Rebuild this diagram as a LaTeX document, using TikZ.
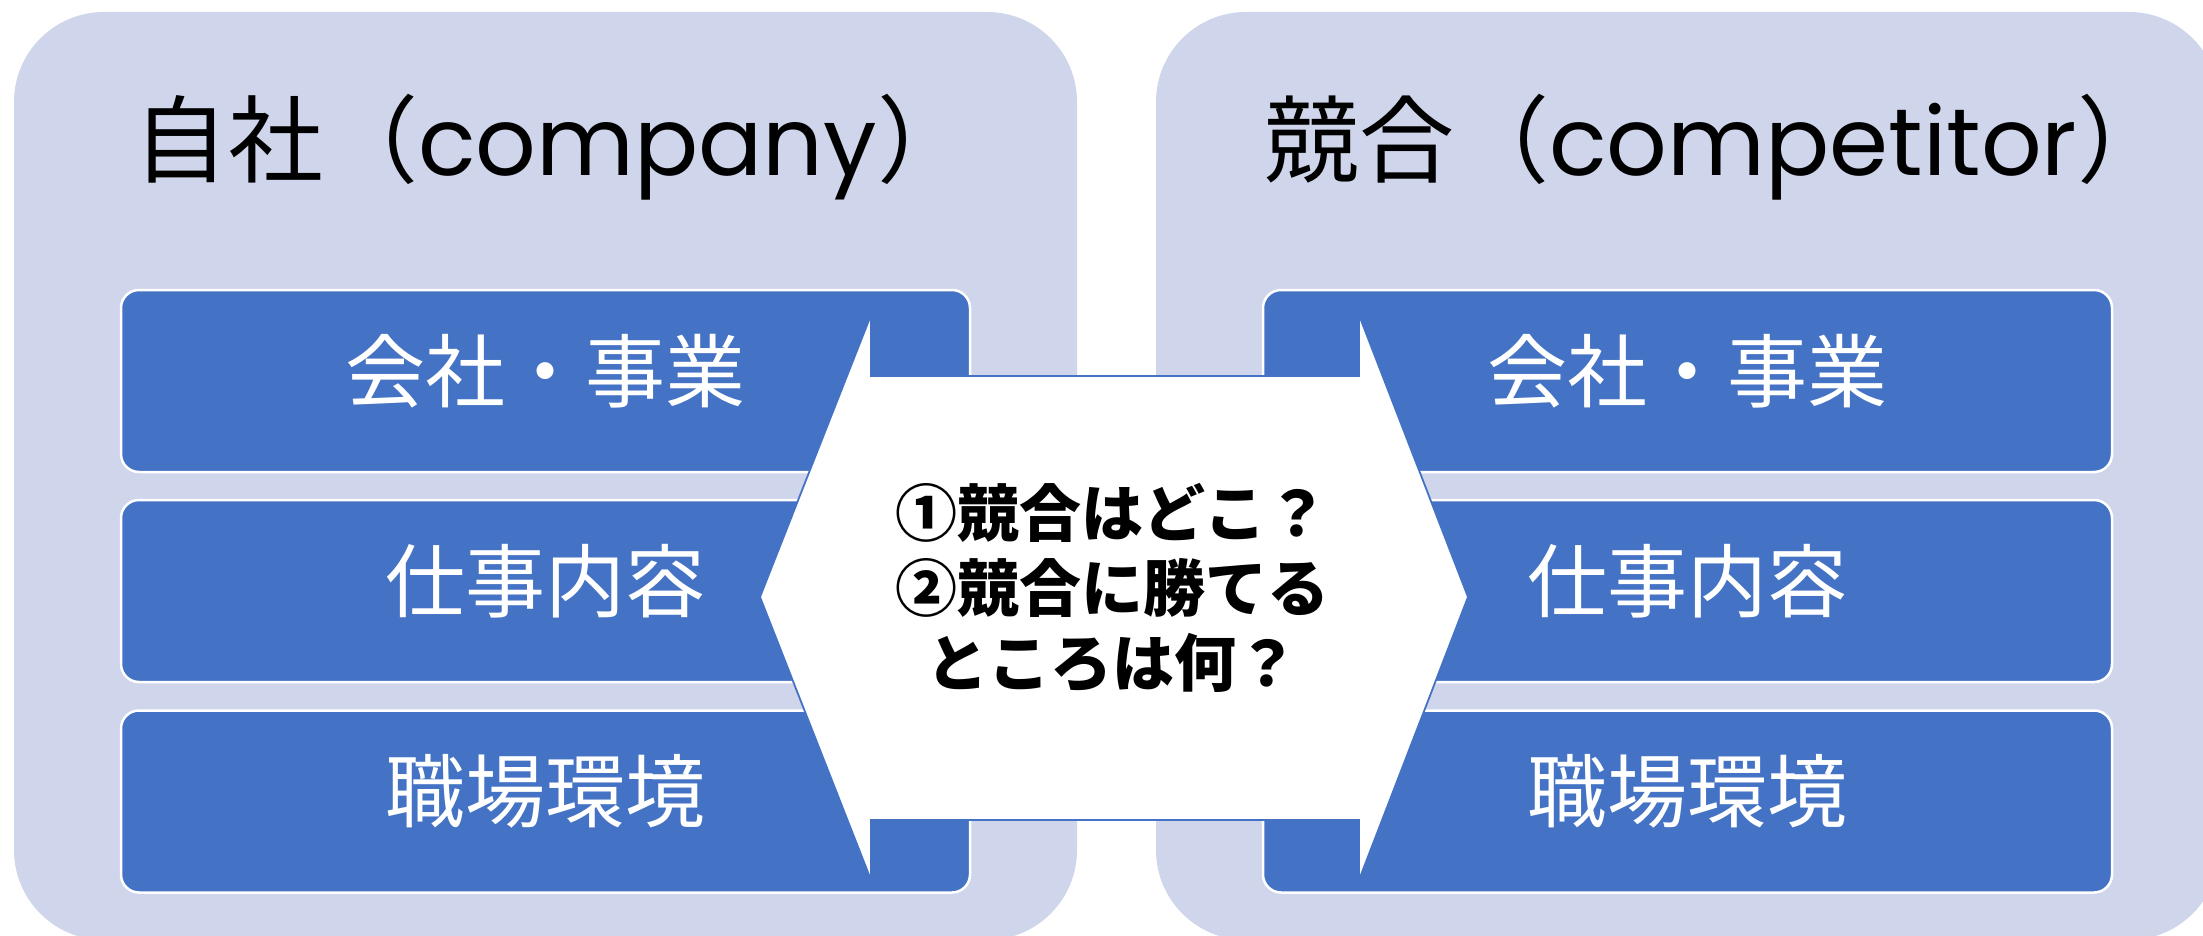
\documentclass[tikz,border=0pt]{standalone}
\usepackage{fontspec}
\newfontfamily\cjk{Noto Sans CJK JP}
\newfontfamily\lat{Poppins}
\definecolor{panelbg}{HTML}{CFD5EA}
\definecolor{boxblue}{HTML}{4472C4}
\tikzset{
  panel/.style={fill=panelbg, rounded corners=90pt},
  bluebox/.style={rectangle, fill=boxblue, draw=white, line width=2.5pt, rounded corners=18pt,
    minimum width=849pt, minimum height=182pt, inner sep=0pt, outer sep=0pt},
  boxtext/.style={text=white, inner sep=0pt, font=\cjk\fontsize{80}{96}\selectfont},
  titletext/.style={inner sep=0pt, anchor=base west, font=\fontsize{95}{110}\selectfont},
  arrowshape/.style={fill=white, draw=boxblue, line width=1.8pt, line join=miter},
  centertext/.style={align=center, inner sep=0pt, font=\cjk\bfseries\fontsize{62}{75}\selectfont}
}
\begin{document}
\begin{tikzpicture}[x=1pt,y=-1pt]
\clip (0,0) rectangle (2203,936);
\fill[white] (0,0) rectangle (2203,936);
% panels
\path[panel] (14,12) rectangle (1077,940);
\path[panel] (1156,12) rectangle (2219,940);
% titles
\node[titletext] (tl) at (133,176) {\cjk 自社（\lat company\cjk ）};
\node[titletext] (tr) at (1264,176) {\cjk 競合（\lat competitor\cjk ）};
% left boxes
\node[bluebox] (l1) at (545.5,381) {};
\node[bluebox] (l2) at (545.5,591) {};
\node[bluebox] (l3) at (545.5,801.5) {};
% right boxes
\node[bluebox] (r1) at (1687.5,381) {};
\node[bluebox] (r2) at (1687.5,591) {};
\node[bluebox] (r3) at (1687.5,801.5) {};
% arrow
\draw[arrowshape] (760,597) -- (871,315) -- (871,376) -- (1359,376) -- (1359,315)
  -- (1468,597) -- (1359,880) -- (1359,820) -- (871,820) -- (871,880) -- cycle;
% box texts
\node[boxtext] (lt1) at ([yshift=10pt]l1.center) {会社・事業};
\node[boxtext] (lt2) at ([yshift=10pt]l2.center) {仕事内容};
\node[boxtext] (lt3) at ([yshift=10pt]l3.center) {職場環境};
\node[boxtext] (rt1) at ([yshift=10pt]r1.center) {会社・事業};
\node[boxtext] (rt2) at ([yshift=10pt]r2.center) {仕事内容};
\node[boxtext] (rt3) at ([yshift=10pt]r3.center) {職場環境};
% center text
\node[centertext] (q) at (1112,588) {①競合はどこ？\\②競合に勝てる\\ところは何？};
\end{tikzpicture}
\end{document}
